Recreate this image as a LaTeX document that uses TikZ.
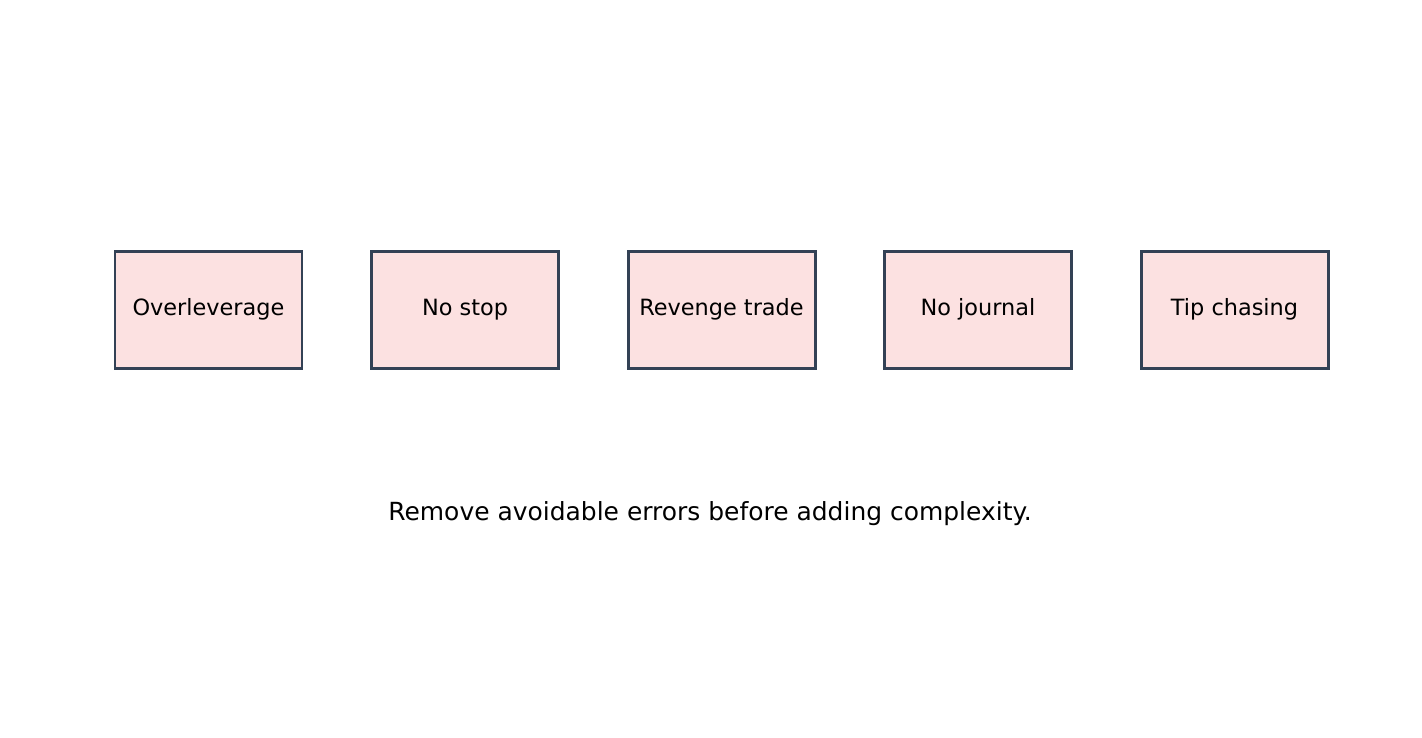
\documentclass[tikz,border=0pt]{standalone}
\usepackage{fontspec}
\setmainfont{DejaVu Sans}
\usetikzlibrary{positioning}

\definecolor{errfill}{HTML}{FCE1E1}
\definecolor{errline}{HTML}{334155}

\begin{document}
\begin{tikzpicture}[
  font=\fontsize{12.75}{15}\selectfont,
  node distance=1.39cm,
  err/.style={
    draw=errline,
    fill=errfill,
    line width=1.7pt,
    align=center,
    minimum width=3.74cm,
    minimum height=2.34cm,
    inner sep=0pt,
    outer sep=0pt
  },
  note/.style={font=\fontsize{14.2}{17}\selectfont}
]

% canvas
\useasboundingbox (0,0) rectangle (28.44,-14.74);

% row of common errors
\node[err] (lev) at (4.17,-6.19) {Overleverage};
\node[err, right=of lev] (stop) {No stop};
\node[err, right=of stop] (revenge) {Revenge trade};
\node[err, right=of revenge] (journal) {No journal};
\node[err, right=of journal] (tip) {Tip chasing};

% takeaway
\node[note] (msg) at (14.2,-10.28) {Remove avoidable errors before adding complexity.};

\end{tikzpicture}
\end{document}
